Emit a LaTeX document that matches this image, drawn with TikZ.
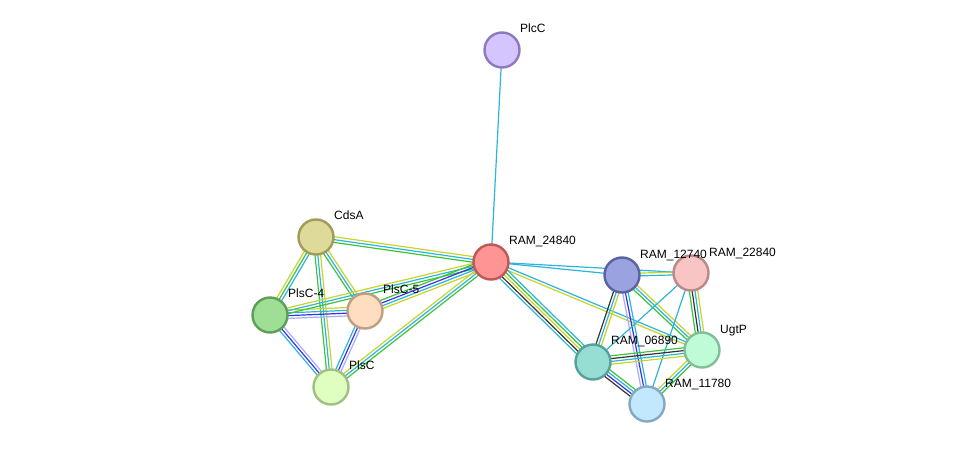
\documentclass[tikz,border=0pt]{standalone}
\usepackage{fontspec}
\setmainfont{Liberation Sans}
\usetikzlibrary{calc,backgrounds}

\definecolor{txtc}{HTML}{C8D42C}
\definecolor{dbc}{HTML}{2BB5D8}
\definecolor{nbc}{HTML}{3BC43B}
\definecolor{coocc}{HTML}{3333EE}
\definecolor{homc}{HTML}{AAAAFF}
\definecolor{coexc}{HTML}{333333}

% node fills and rims
\definecolor{plccF}{HTML}{D4C4FF}\definecolor{plccD}{HTML}{9078C0}
\definecolor{cdsaF}{HTML}{DEDB9A}\definecolor{cdsaD}{HTML}{A09B5A}
\definecolor{r24840F}{HTML}{FF9494}\definecolor{r24840D}{HTML}{C05656}
\definecolor{plsc4F}{HTML}{9EDF95}\definecolor{plsc4D}{HTML}{5E9E58}
\definecolor{plsc5F}{HTML}{FEDDC0}\definecolor{plsc5D}{HTML}{BF9E80}
\definecolor{plscF}{HTML}{DEFFC0}\definecolor{plscD}{HTML}{A0C080}
\definecolor{r12740F}{HTML}{9AA2E0}\definecolor{r12740D}{HTML}{5A62A0}
\definecolor{r22840F}{HTML}{F8C4C4}\definecolor{r22840D}{HTML}{BA8888}
\definecolor{ugtpF}{HTML}{C0FBD8}\definecolor{ugtpD}{HTML}{80BE98}
\definecolor{r06890F}{HTML}{96DDD4}\definecolor{r06890D}{HTML}{58A09A}
\definecolor{r11780F}{HTML}{C2E8FE}\definecolor{r11780D}{HTML}{84A8C0}

\tikzset{
  prot/.style={circle,draw=#1D,fill=#1F,line width=2.4pt,minimum size=35pt,inner sep=0pt},
  lbl/.style={font=\fontsize{12}{12}\selectfont,anchor=base west,inner sep=0pt},
  edge/.style={line width=1.2pt}
}

% parallel evidence lines between two proteins
\newcommand{\stredge}[4]{%
  \foreach \c [count=\i] in {#4}{%
    \pgfmathsetmacro{\off}{(\i-(#3+1)/2)*2.8}
    \draw[edge,\c] ($(#1)!\off pt!90:(#2)$) -- ($(#2)!\off pt!-90:(#1)$);
  }}

\begin{document}
\begin{tikzpicture}[x=1pt,y=-1pt]
\useasboundingbox (0,0) rectangle (976,450);

% proteins
\node[prot=plcc] (plcc) at (502,50) {};
\node[prot=cdsa] (cdsa) at (316,237) {};
\node[prot=r24840] (r24840) at (491,262) {};
\node[prot=plsc4] (plsc4) at (270,315) {};
\node[prot=plsc5] (plsc5) at (365,311) {};
\node[prot=plsc] (plsc) at (331,387) {};
\node[prot=r12740] (r12740) at (622,275) {};
\node[prot=r22840] (r22840) at (691,273) {};
\node[prot=ugtp] (ugtp) at (702,350) {};
\node[prot=r06890] (r06890) at (593,362) {};
\node[prot=r11780] (r11780) at (647,404) {};

% evidence links
\begin{scope}[on background layer]
\stredge{plcc}{r24840}{1}{dbc}
\stredge{cdsa}{r24840}{3}{nbc,dbc,txtc}
\stredge{cdsa}{plsc4}{3}{txtc,nbc,dbc}
\stredge{cdsa}{plsc5}{3}{nbc,dbc,txtc}
\stredge{cdsa}{plsc}{3}{nbc,dbc,txtc}
\stredge{plsc4}{plsc5}{4}{homc,coocc,dbc,txtc}
\stredge{plsc4}{r24840}{3}{nbc,dbc,txtc}
\stredge{plsc5}{r24840}{4}{txtc,dbc,coocc,nbc}
\stredge{plsc4}{plsc}{3}{dbc,coocc,homc}
\stredge{plsc5}{plsc}{3}{dbc,coocc,homc}
\stredge{plsc}{r24840}{3}{nbc,dbc,txtc}
\stredge{r24840}{r12740}{1}{dbc}
\stredge{r24840}{r22840}{1}{dbc}
\stredge{r24840}{ugtp}{2}{txtc,dbc}
\stredge{r24840}{r06890}{5}{dbc,coexc,txtc,nbc,dbc}
\stredge{r12740}{r22840}{2}{dbc,txtc}
\stredge{r12740}{r06890}{3}{coexc,dbc,txtc}
\stredge{r12740}{r11780}{3}{homc,coocc,dbc}
\stredge{r12740}{ugtp}{3}{nbc,dbc,txtc}
\stredge{r22840}{r06890}{1}{dbc}
\stredge{r22840}{ugtp}{4}{nbc,coexc,dbc,txtc}
\stredge{r22840}{r11780}{1}{dbc}
\stredge{r06890}{ugtp}{4}{txtc,dbc,coexc,nbc}
\stredge{ugtp}{r11780}{3}{txtc,dbc,nbc}
\stredge{r06890}{r11780}{4}{coexc,coocc,dbc,nbc}
\end{scope}

% names
\node[lbl] (tplcc) at (520,32) {PlcC};
\node[lbl] (tcdsa) at (334,219) {CdsA};
\node[lbl] (t24840) at (509,244) {RAM\_24840};
\node[lbl] (tplsc4) at (288,297) {PlsC-4};
\node[lbl] (tplsc5) at (383,293) {PlsC-5};
\node[lbl] (tplsc) at (349,369) {PlsC};
\node[lbl] (t12740) at (640,258) {RAM\_12740};
\node[lbl] (t22840) at (709,256) {RAM\_22840};
\node[lbl] (tugtp) at (720,333) {UgtP};
\node[lbl] (t06890) at (611,344) {RAM\_06890};
\node[lbl] (t11780) at (665,387) {RAM\_11780};
\end{tikzpicture}
\end{document}
